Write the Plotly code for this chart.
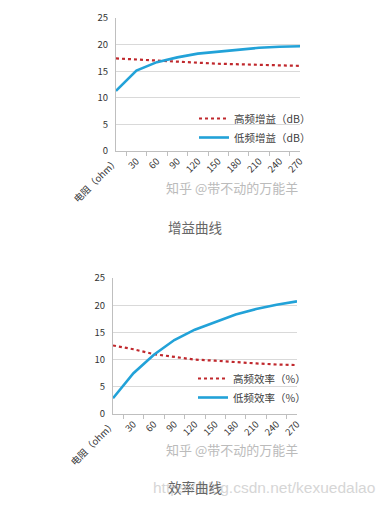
import plotly.graph_objects as go

categories = ["电阻（ohm）", "30", "60", "90", "120", "150", "180", "210", "240", "270"]
gain_high = [17.4, 17.2, 16.9, 16.7, 16.5, 16.4, 16.3, 16.2, 16.1, 16.0]
gain_low = [11.3, 15.1, 16.7, 17.6, 18.3, 18.7, 19.1, 19.4, 19.6, 19.7]
eff_high = [12.6, 11.9, 11.0, 10.5, 10.0, 9.8, 9.5, 9.3, 9.1, 9.0]
eff_low = [2.9, 7.5, 10.9, 13.6, 15.5, 16.9, 18.3, 19.3, 20.1, 20.7]
yticks = [0, 5, 10, 15, 20, 25]

RED = "#C0282D"
BLUE = "#22A2D8"
FONT = "Noto Sans CJK SC"
W, H = 387, 505
OFF = 8  # page body margin

fig = go.Figure()

def px_x(p):
    return (p - OFF) / W

def px_y(p):
    return 1 - (p - OFF) / H

fig.add_trace(go.Scatter(x=categories, y=gain_high, name="高频增益（dB）", mode="lines",
                         line=dict(color=RED, width=2.2, dash="dot"), xaxis="x", yaxis="y", legend="legend"))
fig.add_trace(go.Scatter(x=categories, y=gain_low, name="低频增益（dB）", mode="lines",
                         line=dict(color=BLUE, width=2.6), xaxis="x", yaxis="y", legend="legend"))
fig.add_trace(go.Scatter(x=categories, y=eff_high, name="高频效率（%）", mode="lines",
                         line=dict(color=RED, width=2.2, dash="dot"), xaxis="x2", yaxis="y2", legend="legend2"))
fig.add_trace(go.Scatter(x=categories, y=eff_low, name="低频效率（%）", mode="lines",
                         line=dict(color=BLUE, width=2.6), xaxis="x2", yaxis="y2", legend="legend2"))

xcommon = dict(type="category", tickangle=-45, ticks="outside", tickson="boundaries", ticklen=4,
               tickcolor="#BFBFBF", showline=True, linecolor="#BFBFBF", showgrid=False, automargin=False,
               tickfont=dict(size=9.5, color="#333333", family=FONT), fixedrange=True)
ycommon = dict(range=[0, 25], tickvals=yticks, showgrid=True, gridcolor="#D9D9D9", gridwidth=1,
               showline=True, linecolor="#BFBFBF", ticks="", zeroline=False, automargin=False,
               ticklabelstandoff=5,
               tickfont=dict(size=9.5, color="#333333", family=FONT), fixedrange=True)

fig.update_layout(
    width=W, height=H, margin=dict(l=0, r=0, t=0, b=0, pad=0, autoexpand=False),
    paper_bgcolor="white", plot_bgcolor="white",
    font=dict(family=FONT, color="#404040"),
    xaxis=dict(domain=[px_x(116), px_x(300)], anchor="y", **xcommon),
    yaxis=dict(domain=[px_y(151), px_y(18)], anchor="x", **ycommon),
    xaxis2=dict(domain=[px_x(113), px_x(297)], anchor="y2", **xcommon),
    yaxis2=dict(domain=[px_y(414), px_y(278)], anchor="x2", **ycommon),
    legend=dict(x=px_x(194), y=px_y(104), xanchor="left", yanchor="top", bgcolor="rgba(0,0,0,0)",
                font=dict(size=10.5, color="#404040", family=FONT), tracegroupgap=0, itemwidth=30),
    legend2=dict(x=px_x(193), y=px_y(364), xanchor="left", yanchor="top", bgcolor="rgba(0,0,0,0)",
                 font=dict(size=10.5, color="#404040", family=FONT), tracegroupgap=0, itemwidth=30),
    showlegend=True,
)

annos = [
    dict(text="知乎 @带不动的万能羊", x=px_x(232), y=px_y(187), font=dict(size=13, color="#BBBBBB")),
    dict(text="知乎 @带不动的万能羊", x=px_x(232), y=px_y(449), font=dict(size=13, color="#BBBBBB")),
    dict(text="增益曲线", x=px_x(195), y=px_y(227), font=dict(size=13.5, color="#666666")),
    dict(text="https://blog.csdn.net/kexuedalao", x=px_x(264), y=px_y(487), font=dict(size=15.5, color="#D6D6D6", family="Liberation Sans")),
    dict(text="效率曲线", x=px_x(195), y=px_y(487), font=dict(size=13.5, color="#666666")),
]
for a in annos:
    f = a["font"]
    f.setdefault("family", FONT)
    fig.add_annotation(text=a["text"], x=a["x"], y=a["y"], xref="paper", yref="paper",
                       showarrow=False, xanchor="center", yanchor="middle", font=f)

fig.write_html("out.html")
